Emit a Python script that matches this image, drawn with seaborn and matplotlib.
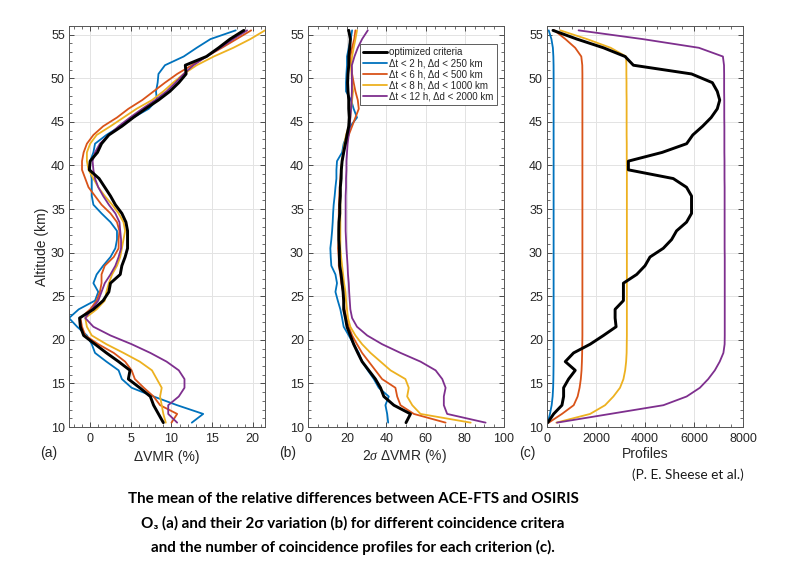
import numpy as np
import pandas as pd
import matplotlib
matplotlib.use("Agg")
import matplotlib.pyplot as plt
from matplotlib.ticker import MultipleLocator
from matplotlib.lines import Line2D
import seaborn as sns

# ---------------- data ----------------
altitude = [10.5 + i for i in range(46)]  # 10.5 ... 55.5 km

criteria = ["optimized criteria",
            "Δt < 2 h, Δd < 250 km",
            "Δt < 6 h, Δd < 500 km",
            "Δt < 8 h, Δd < 1000 km",
            "Δt < 12 h, Δd < 2000 km"]
colors = ["#000000", "#0072BD", "#D95319", "#EDB120", "#7E2F8E"]

# (a) mean relative difference, dVMR (%)
dvmr_opt = [9.0, 8.4, 7.8, 7.4, 6.1, 4.7, 4.9, 3.5, 2.0, 0.6,
            -0.8, -1.2, -1.3, 0.4, 1.6, 2.3, 2.5, 3.7, 3.9, 4.3,
            4.6, 4.6, 4.6, 4.4, 3.9, 3.1, 2.5, 1.8, 1.1, -0.1,
            0.0, 0.9, 1.4, 2.3, 3.9, 5.3, 6.8, 8.4, 9.8, 10.9,
            11.8, 11.7, 14.3, 15.8, 17.2, 18.9]
dvmr_2h = [12.5, 13.9, 10.7, 7.8, 5.1, 3.9, 3.5, 2.0, 0.6, 0.2,
           -0.4, -1.6, -2.6, -1.4, 0.6, 1.0, 0.4, 0.8, 1.6, 2.5,
           3.1, 3.3, 3.3, 2.5, 1.4, 0.4, 0.2, 0.2, 0.2, 0.0,
           0.0, 0.4, 0.6, 2.0, 3.7, 5.3, 7.2, 8.2, 8.1, 8.3,
           8.4, 9.2, 11.5, 13.1, 14.8, 17.9]
dvmr_6h = [10.0, 10.7, 8.6, 7.8, 6.6, 5.5, 5.1, 4.3, 2.9, 1.0,
           -0.6, -1.0, -1.2, 0.0, 0.8, 1.2, 1.4, 1.4, 1.8, 2.9,
           3.5, 3.5, 3.6, 3.3, 2.5, 1.4, 0.6, -0.2, -0.6, -1.0,
           -1.0, -0.8, -0.4, 0.4, 1.6, 3.3, 4.7, 6.4, 7.8, 9.2,
           10.7, 12.5, 14.3, 16.2, 18.0, 19.8]
dvmr_8h = [9.3, 9.0, 8.8, 8.6, 8.8, 8.2, 7.6, 6.1, 4.1, 2.0,
           0.2, -0.4, -0.6, 0.8, 1.8, 2.0, 2.3, 2.7, 3.3, 3.7,
           3.9, 4.1, 4.3, 4.1, 3.5, 2.7, 1.8, 1.0, 0.4, -0.2,
           -0.4, -0.4, 0.0, 0.8, 2.5, 4.1, 5.7, 7.6, 9.0, 10.2,
           11.5, 13.1, 15.2, 17.6, 19.7, 21.5]
dvmr_12h = [10.7, 9.6, 9.6, 10.9, 11.6, 11.6, 10.9, 9.4, 7.4, 5.1,
            2.5, 0.4, -0.6, 0.2, 1.0, 1.4, 1.8, 2.5, 3.1, 3.5,
            3.8, 3.8, 3.7, 3.6, 3.1, 2.3, 1.6, 1.0, 0.6, 0.4,
            0.3, 0.6, 1.2, 2.3, 3.5, 4.9, 6.4, 8.0, 9.4, 10.5,
            11.5, 12.7, 14.3, 16.0, 17.6, 19.3]

# (b) 2-sigma variation (%)
sig_opt = [50.0, 52.3, 43.8, 38.7, 37.0, 34.4, 31.0, 27.6, 25.4, 23.3,
           21.6, 19.9, 19.1, 18.2, 18.2, 17.9, 17.4, 16.9, 16.2, 16.0,
           16.0, 15.7, 15.7, 15.8, 16.2, 16.2, 16.5, 16.5, 16.9, 17.0,
           17.4, 18.2, 19.1, 19.9, 20.8, 21.1, 20.8, 20.8, 20.4, 20.2,
           20.4, 20.8, 20.8, 21.3, 21.6, 20.8]
sig_2h = [40.9, 40.4, 39.5, 41.2, 36.1, 33.6, 30.5, 27.6, 25.9, 23.3,
          20.8, 18.2, 17.4, 16.5, 15.2, 14.0, 14.8, 14.0, 11.9, 11.6,
          11.4, 11.9, 12.3, 12.6, 12.8, 13.1, 13.6, 14.0, 14.5, 14.5,
          14.8, 17.4, 18.2, 19.9, 21.6, 25.0, 23.3, 22.0, 19.4, 19.4,
          19.6, 19.9, 19.9, 20.8, 21.8, 22.5]
sig_6h = [70.2, 54.0, 47.2, 45.5, 44.6, 37.8, 34.4, 31.0, 27.6, 25.0,
          22.5, 20.8, 19.6, 18.7, 18.2, 17.9, 17.0, 16.5, 15.7, 15.7,
          15.3, 15.7, 15.7, 15.7, 15.7, 15.8, 16.0, 16.2, 16.5, 16.9,
          17.4, 18.2, 18.9, 20.8, 22.5, 24.2, 25.9, 25.4, 24.2, 23.3,
          22.5, 22.0, 21.6, 22.5, 23.6, 24.2]
sig_8h = [83.0, 57.4, 53.2, 50.6, 51.4, 49.7, 42.1, 37.0, 31.9, 27.6,
          24.2, 21.6, 20.4, 19.9, 19.4, 19.1, 18.4, 17.9, 17.4, 16.9,
          16.5, 16.5, 16.5, 16.5, 16.5, 16.5, 16.5, 16.5, 16.7, 17.0,
          17.4, 17.9, 18.6, 19.4, 20.8, 21.6, 22.0, 22.5, 23.0, 22.5,
          22.2, 22.0, 22.5, 23.3, 24.2, 25.0]
sig_12h = [90.6, 71.0, 69.3, 69.3, 70.2, 68.5, 65.1, 57.4, 47.2, 37.8,
           30.2, 25.0, 22.5, 21.6, 21.3, 21.0, 20.8, 20.4, 20.2, 19.9,
           19.6, 19.4, 19.2, 19.2, 19.2, 19.2, 19.2, 19.4, 19.4, 19.6,
           19.6, 19.9, 20.2, 20.8, 21.3, 21.6, 22.0, 22.2, 22.4, 22.4,
           22.4, 22.4, 23.7, 25.4, 27.6, 30.5]

# (c) number of coincident profiles
prof_opt = [30, 271, 610, 678, 678, 881, 1153, 746, 1085, 1763,
            2305, 2820, 2780, 2780, 3119, 3119, 3119, 3661, 4000, 4204,
            4746, 5085, 5288, 5695, 5899, 5899, 5899, 5695, 5153, 3322,
            3322, 4700, 5700, 5950, 6350, 6700, 6950, 7050, 6950, 6750,
            5900, 3526, 3187, 2305, 1220, 244]
prof_2h = [30, 120, 190, 230, 250, 260, 265, 268, 270, 270,
           270, 270, 270, 270, 270, 270, 270, 270, 270, 270,
           270, 270, 270, 270, 270, 270, 270, 270, 270, 270,
           270, 270, 270, 270, 270, 270, 270, 270, 270, 270,
           270, 268, 260, 240, 180, 70]
prof_6h = [70, 610, 1090, 1250, 1330, 1380, 1410, 1425, 1435, 1440,
           1445, 1445, 1445, 1445, 1445, 1445, 1445, 1445, 1445, 1445,
           1445, 1445, 1445, 1445, 1445, 1445, 1445, 1445, 1445, 1445,
           1445, 1445, 1445, 1445, 1445, 1445, 1445, 1445, 1445, 1445,
           1445, 1440, 1400, 1150, 750, 300]
prof_8h = [380, 1760, 2370, 2710, 2980, 3120, 3190, 3230, 3250, 3255,
           3260, 3260, 3260, 3260, 3260, 3260, 3260, 3260, 3260, 3260,
           3260, 3260, 3260, 3260, 3260, 3260, 3260, 3260, 3260, 3260,
           3255, 3255, 3255, 3250, 3250, 3250, 3250, 3250, 3245, 3245,
           3240, 3240, 3230, 2600, 1630, 540]
prof_12h = [410, 2580, 4750, 5700, 6240, 6580, 6850, 7050, 7200, 7250,
            7255, 7255, 7255, 7255, 7255, 7255, 7255, 7255, 7255, 7255,
            7250, 7250, 7250, 7250, 7250, 7250, 7250, 7250, 7245, 7245,
            7245, 7240, 7240, 7240, 7240, 7235, 7235, 7235, 7230, 7230,
            7230, 7225, 7180, 6200, 3900, 1290]

panels = {
    "a": [dvmr_opt, dvmr_2h, dvmr_6h, dvmr_8h, dvmr_12h],
    "b": [sig_opt, sig_2h, sig_6h, sig_8h, sig_12h],
    "c": [prof_opt, prof_2h, prof_6h, prof_8h, prof_12h],
}

rows = []
for p, series in panels.items():
    for crit, vals in zip(criteria, series):
        for alt, v in zip(altitude, vals):
            rows.append({"panel": p, "criterion": crit, "alt": alt, "value": v})
df = pd.DataFrame(rows)

# ---------------- style ----------------
sns.set_theme(style="ticks")
plt.rcParams["font.family"] = ["Liberation Sans", "DejaVu Sans"]
plt.rcParams["mathtext.fontset"] = "custom"
plt.rcParams["mathtext.it"] = "Liberation Serif:italic"

W, H = 800, 586
fig = plt.figure(figsize=(8.0, 5.86), dpi=100)

def fx(px):
    return px / W

def fy(py):
    return 1 - py / H

ax_bottom = fy(427)
ax_h = fy(26) - fy(427)
lefts = [69, 308, 547]
ax_w = 196 / W

palette = dict(zip(criteria, colors))
lw_black, lw_col = 2.1, 1.3
sizes = {c: (lw_black if c == criteria[0] else lw_col) for c in criteria}
draw_order = criteria[1:] + criteria[:1]  # black on top

xlims = {"a": (-2.6, 21.5), "b": (0, 100), "c": (0, 8000)}
xmaj = {"a": 5, "b": 20, "c": 2000}
xmin_ = {"a": 1, "b": 5, "c": 500}

tick_color = "#262626"
axes = {}
for p, left in zip(["a", "b", "c"], lefts):
    ax = fig.add_axes([fx(left), ax_bottom, ax_w, ax_h])
    axes[p] = ax
    sub = df[df.panel == p]
    for crit in draw_order:
        s = sub[sub.criterion == crit]
        sns.lineplot(data=s, x="value", y="alt", orient="y", sort=False,
                     estimator=None, color=palette[crit], linewidth=sizes[crit],
                     ax=ax, legend=False)
    ax.set_xlim(*xlims[p])
    ax.set_ylim(10, 56)
    ax.xaxis.set_major_locator(MultipleLocator(xmaj[p]))
    ax.xaxis.set_minor_locator(MultipleLocator(xmin_[p]))
    ax.yaxis.set_major_locator(MultipleLocator(5))
    ax.yaxis.set_minor_locator(MultipleLocator(1))
    ax.set_xlabel("")
    ax.set_ylabel("")
    ax.grid(True, which="major", color="#e3e3e3", linewidth=0.7)
    ax.set_axisbelow(True)
    ax.tick_params(which="both", direction="in", top=True, right=True,
                   color="#333333", labelcolor=tick_color, labelsize=9)
    ax.tick_params(which="major", length=3.5, width=0.6)
    ax.tick_params(which="minor", length=2.0, width=0.5)
    ax.tick_params(axis="x", pad=4)
    ax.tick_params(axis="y", pad=3)
    for sp in ax.spines.values():
        sp.set_color("#555555")
        sp.set_linewidth(0.7)
    ax.set_facecolor("white")

# legend in panel (b)
handles = [Line2D([0], [0], color=c, lw=(lw_black if i == 0 else lw_col))
           for i, c in enumerate(colors)]
leg = axes["b"].legend(handles, criteria, loc="upper right",
                       bbox_to_anchor=(0.963, 0.955), borderaxespad=0,
                       fontsize=7, labelspacing=0.12, handlelength=2.4,
                       handletextpad=0.3, borderpad=0.3, fancybox=False,
                       framealpha=1, edgecolor="#444444")
leg.get_frame().set_linewidth(0.6)

# axis labels and panel tags
lab_kw = dict(color=tick_color, fontsize=10, ha="center", va="center")
fig.text(fx(42), fy(247), "Altitude (km)", rotation=90, **lab_kw)
fig.text(fx(49), fy(453), "(a)", **lab_kw)
fig.text(fx(167), fy(457), "ΔVMR (%)", **lab_kw)
fig.text(fx(288), fy(453), "(b)", **lab_kw)
fig.text(fx(405), fy(456), r"2$\sigma$ ΔVMR (%)", **lab_kw)
fig.text(fx(527), fy(453), "(c)", **lab_kw)
fig.text(fx(645), fy(454), "Profiles", **lab_kw)

cap_font = ["Lato", "DejaVu Sans"]
fig.text(fx(688), fy(475), "(P. E. Sheese et al.)", family=cap_font,
         fontsize=9.8, color="#1a1a1a", ha="center", va="center")
caption = ["The mean of the relative differences between ACE-FTS and OSIRIS",
           "O₃ (a) and their 2σ variation (b) for different coincidence critera",
           "and the number of coincidence profiles for each criterion (c)."]
for line, y in zip(caption, [499, 523, 547]):
    fig.text(fx(353), fy(y), line, family=cap_font, fontweight="bold",
             fontsize=10.9, color="black", ha="center", va="center")

fig.savefig("out.png", dpi=100, facecolor="white")
